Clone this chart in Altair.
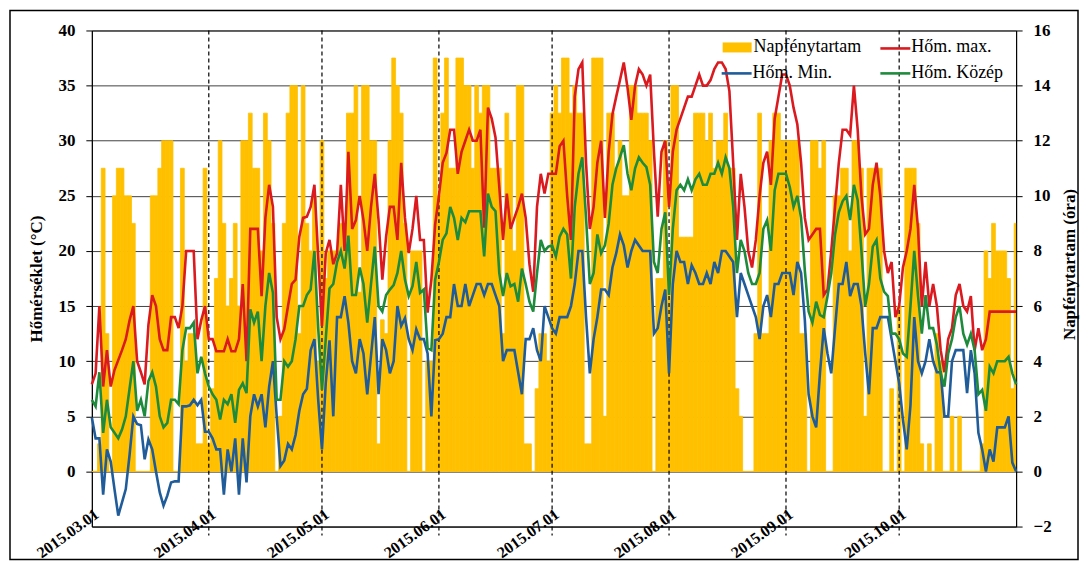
import altair as alt
import pandas as pd

SERIF = "Liberation Serif"
YELLOW = "#FFC000"
RED = "#DA1A1F"
BLUE = "#1F5C99"
GREEN = "#1E8B3C"

month_labels = ["2015.03.01", "2015.04.01", "2015.05.01", "2015.06.01",
                "2015.07.01", "2015.08.01", "2015.09.01", "2015.10.01"]
month_lengths = [31, 30, 31, 30, 31, 31, 30, 31]
legend_names = ["Napfénytartam", "Hőm. max.", "Hőm. Min.", "Hőm. Közép"]

# daily values, 2015-03-01 ... 2015-11-01 (one line per month)
sunshine = [
    0, 0, 1, 11, 5, 0, 10, 11, 11, 10, 10, 9, 0, 0, 0, 0, 10, 10, 11, 12, 12, 12, 0, 0, 11, 4, 5, 5, 1, 1, 11,
    1, 3, 7, 12, 9, 6, 7, 9, 6, 12, 12, 13, 11, 11, 8, 13, 12, 9, 0, 2, 9, 13, 14, 14, 5, 14, 9, 8, 10, 4,
    12, 7, 8, 8, 8, 9, 9, 13, 13, 14, 6.5, 14, 14, 12, 12, 1, 5.5, 5, 12, 15, 14, 13, 9, 0, 8, 8, 8, 0, 4, 4, 15,
    10, 13, 15, 11, 11, 15, 15, 14, 14, 11, 14, 13, 14, 14, 11, 11, 11, 5, 13, 12, 8, 14, 14, 1, 1, 0, 3, 5, 5, 4,
    13, 14, 13, 15, 15, 13, 14, 13, 13, 1, 1, 15, 15, 15, 2, 13, 13, 11, 12, 10, 10, 14, 14, 13, 13, 13, 12, 0, 7, 7, 12,
    7, 14, 14, 8.5, 8.5, 8.5, 8.5, 13, 13, 13, 12, 13, 11, 12, 12, 13, 11, 11, 3, 2, 0, 0, 0, 5, 13, 5, 5, 12, 13, 13, 12,
    12, 12, 12, 12, 5, 5, 0, 12, 12, 11, 12, 0, 0, 10, 10, 11, 11, 8, 12, 12, 11, 2, 11, 11, 11, 11, 0, 0, 3, 0,
    6, 0, 11, 11, 11, 9, 1, 0, 1, 0, 5, 4, 0, 0, 2, 0, 2, 0, 0, 0, 0, 0, 1, 8, 7, 9, 8, 8, 8, 7, 3, 9,
]

t_max = [
    7.9, 8.9, 15.0, 7.7, 11.0, 7.7, 9.2, 10.1, 11.0, 12.0, 13.7, 15.0, 10.0, 9.0, 7.9, 13.3, 16.0, 15.0, 12.0, 11.0, 11.0, 14.0, 14.0, 13.0, 15.0, 20.0, 20.0, 20.0, 12.0, 13.7, 15.0,
    12, 12, 10.9, 10.9, 10.9, 12, 10.9, 10.9, 12, 17, 10, 22, 22, 22, 15.9, 23, 26, 24, 14, 12, 12.9, 15, 17, 17.4, 21.3, 23, 23.1, 24, 26, 19.5,
    13.2, 19.8, 21, 18.8, 19.8, 26, 20, 29, 22, 22.8, 25, 22.8, 20, 24, 27, 22.8, 17.4, 21.3, 24, 24, 21, 28, 23, 19.8, 22, 25, 21, 21, 14.4, 17.4, 22.4,
    25, 28, 28.9, 31, 31, 27, 29, 30, 31, 30, 30, 31, 22.1, 33, 32, 30.3, 25.8, 21, 25.2, 22, 23, 24, 25.2, 23, 18.8, 16.3, 24, 27, 25.2, 27,
    27, 27, 29.5, 30, 25, 21, 34, 36.5, 37.1, 28, 22, 24, 28, 30, 23, 29, 32.4, 34, 35.5, 37.1, 34.8, 31.9, 35, 36.5, 36, 35, 36, 29, 23.1, 29, 30,
    24, 29, 31, 32, 33, 34, 34, 35, 36, 35, 35, 35.5, 36.5, 37.1, 37.1, 36.5, 34.5, 28, 21, 27, 24, 20, 18.5, 21, 25, 28, 29, 26, 32, 34, 36,
    36, 35, 33, 31.5, 28, 23, 21, 21.5, 22, 22, 16, 16.5, 20, 24, 28, 31, 31, 30.5, 35, 31, 25, 21.5, 22, 26, 28, 25, 20, 18, 19, 14,
    15, 18.5, 20, 22, 26, 22, 15, 19, 15, 17, 15, 11, 9, 12, 13, 16, 17, 15, 14.5, 15.9, 11, 13, 11, 12, 14.5, 14.5, 14.5, 14.5, 14.5, 14.5, 14.5, 14.5,
]

t_mean = [
    6.5, 5.9, 9.0, 3.5, 6.5, 4.0, 3.5, 3.0, 3.8, 5.0, 7.5, 10, 5.5, 6.5, 5, 8.2, 9, 7.7, 5, 4, 4.4, 6.5, 6.5, 6.1, 11, 13, 13, 13.5, 8.9, 10.4, 8.9,
    7.7, 7, 6.5, 4.7, 6.5, 6.1, 7, 4.4, 7.4, 8, 7.1, 14.7, 13.5, 14.5, 10, 15, 18, 16.2, 6.5, 6.5, 10, 9.5, 10, 12, 15, 15, 16, 16.5, 20, 13,
    7.4, 12, 16.6, 17, 19, 20, 18.4, 21.4, 16, 16, 18.5, 17, 13.5, 17, 20.4, 15, 14.5, 16, 16.5, 16.9, 18, 20, 17.4, 15.9, 16.8, 19, 16.2, 16.5, 11.2, 11, 17.4,
    19, 21, 21.6, 24, 23, 21, 23, 22.6, 23.6, 23.6, 23.6, 23.6, 19.5, 25.2, 24, 23.6, 18, 15.9, 18, 16.8, 17, 15.4, 18.4, 17, 15.4, 14.5, 18, 21, 20, 20.4,
    20.5, 19.5, 21.3, 22, 21.5, 17.5, 24, 27, 28.5, 23, 17, 18, 21.5, 19.8, 20.5, 22.5, 26, 27.5, 28.5, 29.6, 27, 25.5, 27.5, 28.5, 28, 27.6, 26, 19, 18, 22, 23.5,
    16, 22, 25.5, 26, 25.5, 26.5, 25.5, 26.5, 27, 26, 26, 27, 27, 28, 27, 28.5, 27.5, 24, 18, 21, 20, 18, 17, 17, 18, 22, 22.8, 20, 25.5, 27, 27,
    27, 25.8, 24, 25, 23, 18.2, 14.5, 13.5, 15.4, 14.2, 14, 15.9, 18, 21.5, 23.5, 24.5, 25, 22.8, 26, 24.6, 20, 15, 17, 20.4, 21, 17.5, 16.3, 15.9, 12.5, 12.5,
    12, 10.7, 10.4, 15, 20, 15.9, 12.5, 16, 13, 13, 11.5, 8.9, 7.7, 10.7, 12, 14, 15, 12.5, 11.5, 12.5, 11, 7, 7.4, 5.5, 9.5, 8.9, 10, 10, 10, 10.4, 8.9, 7.9,
]

t_min = [
    4.9, 3, 3, -2.1, 2, 0.9, -1.6, -4, -2.8, -1.6, 1.5, 5, 4.3, 4.2, 1.1, 2.9, 2, 0, -1.9, -3.1, -2.2, -1, -0.9, -0.9, 5.9, 5.9, 6, 6.5, 6, 6.5, 3.6,
    3.6, 3, 2, 2, -2.1, 2, 0, 3, -2.1, 3, -1, 5, 7, 5.9, 7, 4, 7.7, 10, 5, 0.5, 1, 2.5, 2, 3.3, 5.5, 7, 7.5, 11, 12, 6.5,
    2, 8, 11.9, 5, 14, 14, 15.9, 13.5, 10, 8.9, 12, 10.7, 7, 10.5, 14, 7, 12, 11, 8.9, 10, 15, 13.2, 13.9, 12, 11, 12.9, 12, 12, 10.7, 5, 11.9,
    12, 12.5, 14, 14, 17, 15, 15, 17, 15, 16, 17, 17, 16, 17, 17, 16, 15, 10, 11, 11, 11, 9, 7, 12, 12, 13, 11, 10, 15, 14,
    13, 12.5, 14, 14, 14, 15, 17, 20, 20, 14, 8.9, 12, 14, 16.5, 16.5, 16, 18.5, 19.8, 21.5, 20.5, 18.5, 20, 21, 20.5, 20, 20, 20, 12.5, 13, 15, 16.5,
    8.9, 17, 20, 19, 19, 17, 18.7, 18, 17, 17, 18, 17, 19, 18, 20, 20, 19.5, 19, 14, 18, 17, 16, 15, 14, 12, 15, 16, 14, 17, 17, 18,
    18, 18, 16, 19, 18, 13.7, 7, 5, 4, 8.9, 13, 10.7, 8.9, 13, 17, 17, 19, 15.9, 17, 17, 15, 10.7, 7, 13, 13, 14, 14, 14, 12, 10,
    8, 4.7, 2, 6, 14, 10, 8.9, 10, 12, 10, 9, 9, 5, 5, 10, 11, 11, 11, 7.1, 11, 8.9, 3.5, 2, 0, 2, 0.9, 4, 4, 4, 5, 0.8, 0,
]

n = len(sunshine)
month_start = [0]
for L in month_lengths[:-1]:
    month_start.append(month_start[-1] + L)

df = pd.DataFrame({
    "day": list(range(n)),
    "d0": [d - 0.5 for d in range(n)],
    "d1": [d + 0.5 for d in range(n)],
    "sun": sunshine,
    "tmax": t_max,
    "tmean": t_mean,
    "tmin": t_min,
})

W, H = 926, 497

label_expr = " : ".join(f"datum.value == {i} ? '{lab}'" for i, lab in zip(month_start, month_labels)) + " : ''"

xscale = alt.Scale(domain=[0, n - 1], nice=False, zero=False)
xaxis = alt.Axis(values=month_start, labelExpr=label_expr, labelAngle=-36, labelAlign="right",
                 labelBaseline="top", labelPadding=-21, labelFont=SERIF, labelFontWeight="bold",
                 labelFontSize=16, labelColor="black", ticks=False, grid=False, domainColor="black",
                 title=None, labelOverlap=False, labelBound=False, labelFlush=False)

tscale = alt.Scale(domain=[-5, 40], nice=False, zero=False)
taxis = alt.Axis(orient="left", values=list(range(0, 41, 5)), title="Hőmérséklet (°C)",
                 grid=True, gridColor="#404040", gridWidth=1, tickSize=6, tickColor="black",
                 labelPadding=11, labelFont=SERIF, labelFontWeight="bold", labelFontSize=17,
                 labelColor="black", domainColor="black", titleFont=SERIF, titleFontWeight="bold",
                 titleFontSize=17, titleColor="black", titlePadding=12)

sscale = alt.Scale(domain=[-2, 16], nice=False, zero=False)
saxis = alt.Axis(orient="right", values=list(range(-2, 17, 2)), title="Napfénytartam (óra)",
                 grid=False, tickSize=6, tickColor="black", labelPadding=11, labelFont=SERIF,
                 labelFontWeight="bold", labelFontSize=17, labelColor="black", domainColor="black",
                 titleFont=SERIF, titleFontWeight="bold", titleFontSize=17, titleColor="black",
                 titleAngle=-90, titleBaseline="top", titlePadding=10, titleY=234)

bars = alt.Chart(df).mark_bar(color=YELLOW, stroke=YELLOW, strokeWidth=0.8, clip=True).encode(
    x=alt.X("d0:Q", scale=xscale, axis=xaxis),
    x2="d1:Q",
    y=alt.Y("sun:Q", scale=sscale, axis=saxis),
    y2=alt.datum(0),
)

rules = alt.Chart(pd.DataFrame({"day": month_start[1:]})).mark_rule(
    color="black", strokeDash=[4, 3], strokeWidth=1.2
).encode(
    x=alt.X("day:Q", scale=xscale, axis=xaxis),
    y=alt.value(0),
    y2=alt.value(H + 9),
)

def temp_line(field, color):
    return alt.Chart(df).mark_line(color=color, strokeWidth=2.6).encode(
        x=alt.X("day:Q", scale=xscale, axis=xaxis),
        y=alt.Y(f"{field}:Q", scale=tscale, axis=taxis),
    )

lines = alt.layer(temp_line("tmax", RED), temp_line("tmin", BLUE), temp_line("tmean", GREEN))

one = pd.DataFrame({"k": [0]})

def leg_text(txt, x, y):
    return alt.Chart(pd.DataFrame({"t": [txt]})).mark_text(
        align="left", baseline="middle", font=SERIF, fontSize=18, color="black"
    ).encode(x=alt.value(x), y=alt.value(y), text="t:N")

def leg_line(color, x, y):
    return alt.Chart(one).mark_rule(color=color, strokeWidth=2.6).encode(
        x=alt.value(x), x2=alt.value(x + 30), y=alt.value(y)
    )

legend = [
    alt.Chart(one).mark_rect(color=YELLOW).encode(
        x=alt.value(632), x2=alt.value(661), y=alt.value(12), y2=alt.value(22)),
    leg_text(legend_names[0], 663, 17),
    leg_line(RED, 790, 18),
    leg_text(legend_names[1], 821, 17),
    leg_line(BLUE, 631, 43),
    leg_text(legend_names[2], 662, 43),
    leg_line(GREEN, 790, 43),
    leg_text(legend_names[3], 821, 43),
]

frame = alt.Chart(one).mark_rect(filled=False, stroke="black", strokeWidth=1.5).encode(
    x=alt.value(-82), x2=alt.value(988), y=alt.value(-20), y2=alt.value(530)
)

chart = alt.layer(bars, rules, lines, *legend, frame).resolve_scale(y="independent").properties(
    width=W, height=H,
    padding={"left": 84, "top": 22, "right": 64, "bottom": 38},
    autosize=alt.AutoSizeParams(type="none"),
).configure_view(stroke="black", strokeWidth=1)

chart.save("out.html", embed_options={"renderer": "svg", "actions": False})
